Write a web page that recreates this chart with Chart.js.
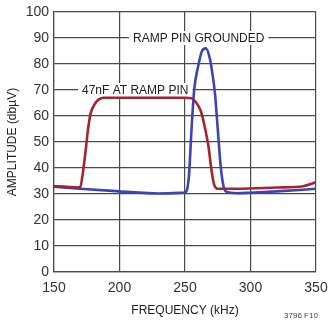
<!DOCTYPE html>
<html>
<head>
<meta charset="utf-8">
<script src="https://cdn.jsdelivr.net/npm/chart.js@4"></script>
<style>
  html, body { margin: 0; padding: 0; background: #fff; }
  #wrap { width: 330px; height: 322px; position: relative; }
</style>
</head>
<body>
<div id="wrap"><canvas id="chart"></canvas></div>
<script>
"use strict";

// Data
const redFreq = [150, 160, 168, 170, 172, 174, 176, 178, 181, 184, 188, 200, 230, 250, 255, 258, 262, 265, 268, 270, 272, 275, 290, 320, 340, 350];
const redAmp  = [33, 32.8, 32.5, 32.7, 38, 46, 55, 61, 64.5, 66.3, 67, 67, 67, 67, 66.8, 65.5, 62, 56, 48, 40, 34, 32, 32, 32.5, 33, 34.5];

const blueFreq = [150, 170, 200, 230, 249, 251, 253, 255, 257, 260, 263, 266, 269, 271, 273, 275, 277, 279, 281, 290, 300, 320, 350];
const blueAmp  = [32.8, 32, 31, 30.2, 30.5, 31, 37, 55, 70, 79, 85, 86, 82, 76, 68, 55, 42, 34, 31, 30.3, 30.5, 31, 32];

const xTicks = [150, 200, 250, 300, 350];
const yTicks = [0, 10, 20, 30, 40, 50, 60, 70, 80, 90, 100];

const labelRamp = "RAMP PIN GROUNDED";
const label47n = "47nF AT RAMP PIN";

function toPoints(xs, ys) {
    return xs.map((x, i) => ({ x: x, y: ys[i] }));
}

// Curve labels sit on grid lines, so they get a white box behind them
const curveLabels = {
    id: "curveLabels",
    beforeDatasetsDraw(chart) {
        const c = chart.ctx;
        const xs = chart.scales.x, ys = chart.scales.y;
        c.save();
        c.font = "12px 'Liberation Sans', Arial, sans-serif";
        c.textBaseline = "middle";
        const items = [
            { text: labelRamp, x: 260.5, y: 90 },
            { text: label47n, x: 212, y: 70 }
        ];
        items.forEach(it => {
            const px = xs.getPixelForValue(it.x);
            const py = ys.getPixelForValue(it.y);
            const w = c.measureText(it.text).width;
            c.fillStyle = "#fff";
            c.fillRect(px - w / 2 - 4, py - 7, w + 8, 14);
            c.fillStyle = "#222";
            c.textAlign = "center";
            c.fillText(it.text, px, py + 1);
        });
        c.restore();
    },
    afterDraw(chart) {
        const c = chart.ctx;
        c.save();
        c.font = "8px 'Liberation Sans Narrow', 'Liberation Sans', sans-serif";
        c.fillStyle = "#444";
        c.textAlign = "center";
        c.fillText("3796 F10", 301, 318);
        c.restore();
    }
};

const tickFont = { family: "'Liberation Sans', Arial, sans-serif", size: 14 };
const titleFont = { family: "'Liberation Sans', Arial, sans-serif", size: 12 };

new Chart(document.getElementById("chart"), {
    type: "line",
    data: {
        datasets: [{
            label: label47n,
            data: toPoints(redFreq, redAmp),
            borderColor: "#a3262e",
            borderWidth: 2.6,
            pointRadius: 0,
            cubicInterpolationMode: "monotone",
            fill: false
        }, {
            label: labelRamp,
            data: toPoints(blueFreq, blueAmp),
            borderColor: "#3b44b0",
            borderWidth: 2.6,
            pointRadius: 0,
            cubicInterpolationMode: "monotone",
            fill: false
        }]
    },
    options: {
        responsive: true,
        maintainAspectRatio: false,
        animation: false,
        layout: { padding: { left: 5, right: 14, top: 12, bottom: 0 } },
        plugins: { legend: { display: false }, tooltip: { enabled: false } },
        scales: {
            x: {
                type: "linear",
                min: 150, max: 350,
                afterBuildTicks: s => { s.ticks = xTicks.map(v => ({ value: v })); },
                afterFit: s => { s.height = 50; s.paddingLeft = 0; s.paddingRight = 0; },
                ticks: { color: "#333", font: tickFont, padding: 8, maxRotation: 0 },
                grid: { color: "#4a4a4a", lineWidth: 1.2, drawTicks: false },
                border: { color: "#4a4a4a", width: 1.2 },
                title: { display: true, text: "FREQUENCY (kHz)", color: "#222", font: titleFont, padding: { top: 2 } }
            },
            y: {
                min: 0, max: 100,
                afterBuildTicks: s => { s.ticks = yTicks.map(v => ({ value: v })); },
                afterFit: s => { s.width = 49; s.paddingTop = 0; s.paddingBottom = 0; },
                ticks: { color: "#333", font: tickFont, padding: 5 },
                grid: { color: "#4a4a4a", lineWidth: 1.2, drawTicks: false },
                border: { color: "#4a4a4a", width: 1.2 },
                title: { display: true, text: "AMPLITUDE (dbµV)", color: "#222", font: titleFont, padding: 0 }
            }
        }
    },
    plugins: [curveLabels]
});
</script>
</body>
</html>
